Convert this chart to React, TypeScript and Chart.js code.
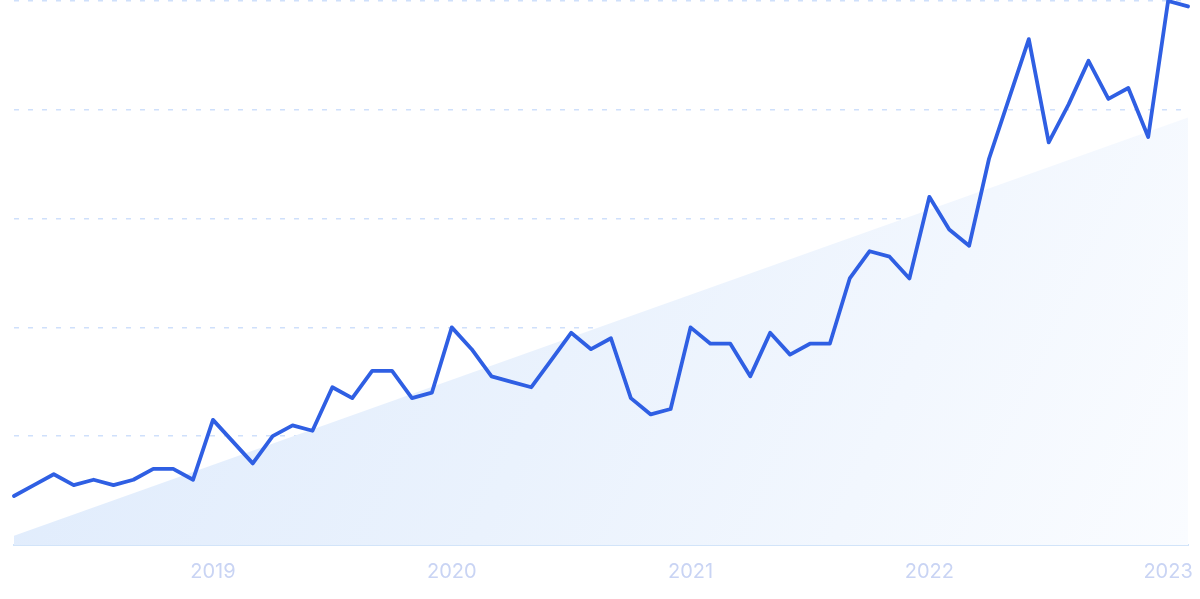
import React, { useEffect, useRef } from "react";
import { Chart, registerables } from "chart.js";

Chart.register(...registerables);

const months = ["Jan", "Feb", "Mar", "Apr", "May", "Jun", "Jul", "Aug", "Sep", "Oct", "Nov", "Dec"];

const monthLabels: string[] = [
  "Mar 2018", "Apr 2018", "May 2018", "Jun 2018", "Jul 2018", "Aug 2018", "Sep 2018", "Oct 2018", "Nov 2018", "Dec 2018",
  "Jan 2019", "Feb 2019", "Mar 2019", "Apr 2019", "May 2019", "Jun 2019", "Jul 2019", "Aug 2019", "Sep 2019", "Oct 2019", "Nov 2019", "Dec 2019",
  "Jan 2020", "Feb 2020", "Mar 2020", "Apr 2020", "May 2020", "Jun 2020", "Jul 2020", "Aug 2020", "Sep 2020", "Oct 2020", "Nov 2020", "Dec 2020",
  "Jan 2021", "Feb 2021", "Mar 2021", "Apr 2021", "May 2021", "Jun 2021", "Jul 2021", "Aug 2021", "Sep 2021", "Oct 2021", "Nov 2021", "Dec 2021",
  "Jan 2022", "Feb 2022", "Mar 2022", "Apr 2022", "May 2022", "Jun 2022", "Jul 2022", "Aug 2022", "Sep 2022", "Oct 2022", "Nov 2022", "Dec 2022",
  "Jan 2023", "Feb 2023",
];

const interestValues: number[] = [
  9, 11, 13, 11, 12, 11, 12, 14, 14, 12,
  23, 19, 15, 20, 22, 21, 29, 27, 32, 32, 27, 28,
  40, 36, 31, 30, 29, 34, 39, 36, 38, 27, 24, 25,
  40, 37, 37, 31, 39, 35, 37, 37, 49, 54, 53, 49,
  64, 58, 55, 71, 82, 93, 74, 81, 89, 82, 84, 75,
  100, 99,
];

const trendStart = 1.7;
const trendEnd = 78.6;

const yTicks: number[] = [0, 20, 40, 60, 80, 100];

export default function App() {
  const canvasRef = useRef<HTMLCanvasElement | null>(null);

  useEffect(() => {
    const canvas = canvasRef.current;
    if (!canvas) return;
    const chart = new Chart(canvas, {
      type: "line",
      data: {
        labels: monthLabels,
        datasets: [
          {
            label: "Interest",
            data: interestValues,
            borderColor: "#2f5fe3",
            borderWidth: 3.8,
            pointRadius: 0,
            tension: 0,
            fill: false,
            borderJoinStyle: "round",
            borderCapStyle: "round",
            order: 0,
            clip: 4,
          },
          {
            label: "Trend",
            data: [
              { x: monthLabels[0], y: trendStart },
              { x: monthLabels[monthLabels.length - 1], y: trendEnd },
            ] as any,
            borderWidth: 0,
            borderColor: "rgba(0,0,0,0)",
            pointRadius: 0,
            fill: "origin",
            order: 1,
            backgroundColor: (ctx: any) => {
              const ca = ctx.chart.chartArea;
              if (!ca) return "#e6effc";
              const g = ctx.chart.ctx.createLinearGradient(ca.left, ca.top, ca.right, ca.bottom);
              g.addColorStop(0, "rgba(221,234,252,1)");
              g.addColorStop(0.5, "rgba(234,242,253,1)");
              g.addColorStop(1, "rgba(250,252,255,1)");
              return g;
            },
          },
        ],
      },
      options: {
        animation: false,
        responsive: false,
        maintainAspectRatio: false,
        layout: { padding: { left: 14, right: 12, top: 1, bottom: 0 } },
        plugins: { legend: { display: false }, tooltip: { enabled: false } },
        scales: {
          x: {
            type: "category",
            offset: false,
            afterFit: (axis: any) => {
              axis.paddingLeft = 0;
              axis.paddingRight = 0;
            },
            grid: { display: false, drawTicks: false },
            border: { display: true, color: "#d2e4f9", width: 2 },
            ticks: {
              autoSkip: false,
              maxRotation: 0,
              padding: 17,
              color: "#c9d4f4",
              font: { family: "Inter, 'Noto Sans', sans-serif", size: 20, lineHeight: 1.0 },
              callback: (_v: any, i: number) => {
                const l = monthLabels[i];
                return l.startsWith(months[0] + " ") ? l.split(" ")[1] : null;
              },
            },
          },
          y: {
            min: yTicks[0],
            max: yTicks[yTicks.length - 1],
            afterBuildTicks: (axis: any) => {
              axis.ticks = yTicks.map((v) => ({ value: v }));
            },
            grid: { color: "#cfe0fb", lineWidth: 1.5, drawTicks: false },
            border: { display: false, dash: [5, 9] },
            ticks: { display: false },
          },
        },
      },
    });
    return () => chart.destroy();
  }, []);

  return (
    <div style={{ position: "fixed", left: 0, top: 0, width: 1200, height: 599, background: "#fff" }}>
      <canvas ref={canvasRef} width={1200} height={599} style={{ width: 1200, height: 599, display: "block" }} />
    </div>
  );
}
